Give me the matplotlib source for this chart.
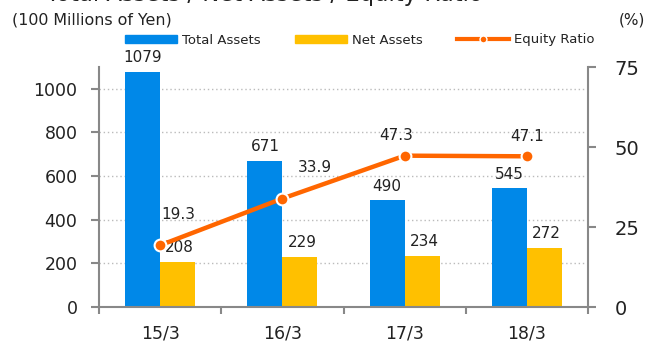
import matplotlib
matplotlib.use("Agg")
import matplotlib.pyplot as plt
from matplotlib.lines import Line2D
from matplotlib.patches import Patch

# ---- data -------------------------------------------------------------
periods = ["15/3", "16/3", "17/3", "18/3"]
total_assets = [1079, 671, 490, 545]
net_assets = [208, 229, 234, 272]
equity_ratio = [19.3, 33.9, 47.3, 47.1]

# ---- style ------------------------------------------------------------
C_TOTAL = "#0088E8"
C_NET = "#FFC000"
C_RATIO = "#FF6600"
C_AXIS = "#888888"
C_TEXT = "#222222"

plt.rcParams["font.family"] = ["DejaVu Sans"]

W, H, DPI = 6.47, 3.42, 100
BAR_W = 0.286

# label offsets for the ratio line (points; x, y, ha)
RATIO_OFFS = [(1, 22, "left"), (11, 22.5, "left"), (-6, 14.5, "center"), (0, 14.5, "center")]

fig = plt.figure(figsize=(W, H), dpi=DPI, facecolor="white")
ax = fig.add_axes([0.153, 0.1023, 0.756, 0.7017])
ax2 = ax.twinx()

x = list(range(len(periods)))
x_tot = [i - BAR_W / 2 for i in x]
x_net = [i + BAR_W / 2 for i in x]

ax.bar(x_tot, total_assets, width=BAR_W, color=C_TOTAL, zorder=2)
ax.bar(x_net, net_assets, width=BAR_W, color=C_NET, zorder=2)

for xi, v in zip(x_tot, total_assets):
    ax.annotate(f"{v}", (xi, v), xytext=(0, 4.5), textcoords="offset points",
                ha="center", va="bottom", fontsize=11, color=C_TEXT)
for xi, v in zip(x_net, net_assets):
    ax.annotate(f"{v}", (xi, v), xytext=(1.5, 5), textcoords="offset points",
                ha="center", va="bottom", fontsize=11, color=C_TEXT)

ax2.plot(x, equity_ratio, color=C_RATIO, lw=3.2, marker="o", ms=8.5,
         mfc=C_RATIO, mec="white", mew=1.5, zorder=5, clip_on=False)
for xi, v, (dx, dy, ha) in zip(x, equity_ratio, RATIO_OFFS):
    ax2.annotate(f"{v}", (xi, v), xytext=(dx, dy), textcoords="offset points",
                 ha=ha, va="center", fontsize=11, color=C_TEXT)

# ---- axes -------------------------------------------------------------
ax.set_xlim(-0.5, 3.5)
ax.set_ylim(0, 1100)
ax2.set_ylim(0, 75)

ax.set_yticks([0, 200, 400, 600, 800, 1000])
ax.set_yticklabels(["0", "200", "400", "600", "800", "1000"], fontsize=12.5, color=C_TEXT)
ax2.set_yticks([0, 25, 50, 75])
ax2.set_yticklabels(["0", "25", "50", "75"], fontsize=14, color=C_TEXT)

ax.set_xticks([-0.5, 0.5, 1.5, 2.5, 3.5])
ax.set_xticklabels([])
ax.set_xticks(x, minor=True)
ax.set_xticklabels(periods, minor=True, fontsize=12.5, color=C_TEXT)
ax.tick_params(axis="x", which="major", length=5, width=1.5, color=C_AXIS, direction="out")
ax.tick_params(axis="x", which="minor", length=0, pad=12.5)
ax.tick_params(axis="y", length=6, width=1.5, color=C_AXIS, pad=9.5)
ax2.tick_params(axis="y", length=6, width=1.5, color=C_AXIS, pad=13)

for a in (ax, ax2):
    a.spines["top"].set_visible(False)
    for s in ("left", "right", "bottom"):
        a.spines[s].set_color(C_AXIS)
        a.spines[s].set_linewidth(1.5)
ax2.spines["left"].set_visible(False)
ax2.spines["bottom"].set_visible(False)
ax.spines["right"].set_visible(False)

ax.grid(axis="y", color="#BBBBBB", linestyle=(0, (1, 2)), linewidth=1.0, zorder=0)
ax.set_axisbelow(True)
ax.set_zorder(ax2.get_zorder() - 1)
ax.patch.set_visible(False)
ax2.patch.set_visible(False)

# ---- headings and legend ---------------------------------------------
# the chart title sits almost entirely above the top edge of the canvas
fig.text(0.071, 1 - 0.5 / 342, "Total Assets / Net Assets / Equity Ratio",
         fontsize=16.4, color=C_TEXT, ha="left", va="baseline")
fig.text(0.018, 1 - 20 / 342, "(100 Millions of Yen)", fontsize=11.4,
         color=C_TEXT, ha="left", va="center")
fig.text(0.997, 1 - 20 / 342, "(%)", fontsize=11, color=C_TEXT,
         ha="right", va="center")

handles = [
    Patch(color=C_TOTAL, label="Total Assets"),
    Patch(color=C_NET, label="Net Assets"),
    Line2D([], [], color=C_RATIO, lw=3, marker="o", ms=5, mfc=C_RATIO,
           mec="white", mew=1, label="Equity Ratio"),
]
fig.legend(handles=handles, loc="center", bbox_to_anchor=(0.5557, 1 - 40 / 342),
           ncol=3, frameon=False, fontsize=9.5, handlelength=3.95,
           handleheight=0.63, handletextpad=0.38, columnspacing=2.6,
           labelcolor=C_TEXT)

fig.savefig("out.png", dpi=DPI, facecolor="white")
